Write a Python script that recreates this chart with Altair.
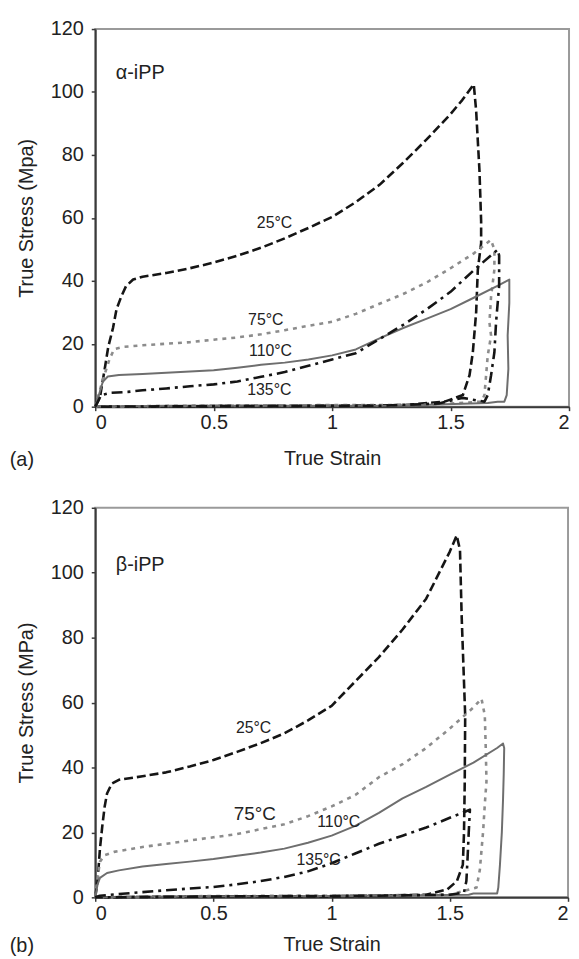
import altair as alt
import pandas as pd

# ---------------- Panel (a): alpha-iPP ----------------
a25_strain = [0, 0.02, 0.04, 0.055, 0.075, 0.09, 0.11, 0.13, 0.16, 0.2, 0.3, 0.4, 0.5, 0.6, 0.7, 0.8, 0.9, 1.0,
              1.1, 1.2, 1.3, 1.4, 1.5, 1.55, 1.598,
              1.608, 1.622, 1.629, 1.629, 1.615, 1.608, 1.594, 1.58, 1.552, 1.475, 1.3, 1.0, 0.5, 0.0]
a25_stress = [0, 3, 12, 19, 25, 31, 35, 38.3, 40.4, 41.3, 42.5, 44, 45.8, 48, 50.5, 53.5, 56.8, 60.3,
              65, 70.5, 77.5, 85, 93, 97.5, 102.4,
              94, 75, 59, 52, 43.5, 30, 17.3, 10, 3.7, 1.6, 0.5, 0.3, 0.2, 0]

a75_strain = [0, 0.03, 0.06, 0.08, 0.12, 0.2, 0.3, 0.4, 0.5, 0.6, 0.7, 0.8, 0.9, 1.0, 1.1, 1.2, 1.3, 1.4,
              1.5, 1.6, 1.67,
              1.685, 1.685, 1.671, 1.664, 1.671, 1.657, 1.65, 1.643, 1.63, 1.4, 1.0, 0.5, 0.0]
a75_stress = [0, 8, 15, 18.3, 19, 19.5, 20, 20.5, 21.3, 22, 23, 24.3, 25.7, 27, 29.5, 32.7, 35.8, 39.5,
              44, 48.8, 53,
              50, 43.6, 35, 26.8, 22.6, 16.3, 10, 3.7, 1.6, 0.6, 0.5, 0.4, 0]

a110_strain = [0, 0.011, 0.032, 0.053, 0.1, 0.2, 0.3, 0.4, 0.5, 0.6, 0.7, 0.8, 0.9, 1.0, 1.1, 1.2, 1.3, 1.4,
               1.5, 1.6, 1.7, 1.748,
               1.748, 1.741, 1.744, 1.737, 1.727, 1.699, 1.657, 1.3, 0.8, 0.3, 0.0]
a110_stress = [0, 2.6, 7.9, 9.6, 10.1, 10.4, 10.8, 11.2, 11.6, 12.4, 13.3, 14, 15, 16.3, 18.2, 21.7, 25, 28,
               31, 34.7, 38.5, 40.4,
               33, 22.6, 12, 3.7, 1.6, 1.6, 1.2, 0.4, 0.3, 0.3, 0]

a135_strain = [0, 0.011, 0.025, 0.067, 0.137, 0.2, 0.3, 0.4, 0.5, 0.6, 0.7, 0.8, 0.9, 1.0, 1.1, 1.2, 1.3, 1.4,
               1.5, 1.6, 1.699,
               1.705, 1.705, 1.699, 1.692, 1.685, 1.671, 1.657, 1.643, 1.55, 1.45, 1.2, 0.6, 0.0]
a135_stress = [0, 1.6, 3.7, 4.4, 4.7, 5.2, 5.8, 6.5, 7.1, 8, 9.5, 11, 13, 15, 17, 21.5, 26, 31,
               36.5, 43.5, 49.9,
               48, 38.4, 33, 26.8, 17.3, 10, 3.7, 1.6, 2.8, 1, 0.3, 0.2, 0]

# ---------------- Panel (b): beta-iPP ----------------
b25_strain = [0, 0.01, 0.02, 0.03, 0.04, 0.05, 0.07, 0.1, 0.2, 0.3, 0.4, 0.5, 0.6, 0.7, 0.8, 0.9, 1.0, 1.1,
              1.2, 1.3, 1.4, 1.5, 1.529,
              1.543, 1.55, 1.565, 1.563, 1.56, 1.555, 1.53, 1.49, 1.4, 1.0, 0.5, 0.0]
b25_stress = [0, 5, 15, 22, 28, 32, 35, 36.2, 37.3, 38.5, 40.3, 42.3, 44.8, 47.5, 50.5, 54.5, 59, 66.5,
              74, 82.5, 92, 106.5, 111.5,
              107, 86.7, 56, 35, 20, 10, 5, 2.5, 0.8, 0.3, 0.3, 0]

b75_strain = [0, 0.01, 0.02, 0.04, 0.08, 0.2, 0.3, 0.4, 0.5, 0.6, 0.7, 0.8, 0.9, 1.0, 1.1, 1.2, 1.3, 1.4,
              1.5, 1.6, 1.634,
              1.648, 1.652, 1.655, 1.648, 1.641, 1.627, 1.613, 1.5, 1.0, 0.5, 0.0]
b75_stress = [0, 6, 11, 13, 14, 15.5, 16.5, 17.5, 18.5, 19.5, 21, 22.5, 25, 28, 31.5, 37, 41, 46,
              52, 58.5, 61.2,
              56, 45.9, 35.7, 28.7, 20.5, 8.5, 3, 0.8, 0.5, 0.4, 0]

b110_strain = [0, 0.01, 0.02, 0.05, 0.1, 0.2, 0.3, 0.4, 0.5, 0.6, 0.7, 0.8, 0.9, 1.0, 1.1, 1.2, 1.3, 1.4,
               1.5, 1.6, 1.7, 1.725,
               1.73, 1.728, 1.725, 1.72, 1.712, 1.705, 1.70, 1.6, 1.58, 1.0, 0.4, 0.0]
b110_stress = [0, 4, 6, 7.5, 8.3, 9.5, 10.3, 11, 11.8, 12.8, 13.8, 15, 16.8, 19, 22, 26, 30.5, 34,
               37.8, 41.5, 46, 47.4,
               46, 38, 30, 20, 10, 3, 1.2, 1.2, 0.8, 0.4, 0.3, 0]

b135_strain = [0, 0.02, 0.1, 0.2, 0.3, 0.4, 0.5, 0.6, 0.7, 0.8, 0.9, 1.0, 1.1, 1.2, 1.3, 1.4, 1.5, 1.585,
               1.58, 1.575, 1.57, 1.56, 1.5, 1.2, 0.6, 0.0]
b135_stress = [0, 0.5, 1, 1.6, 2.2, 2.7, 3.2, 4, 5, 6.3, 8, 10.5, 13.5, 16.5, 19, 21.5, 24.5, 27,
               20, 12, 5, 1.5, 0.8, 0.5, 0.3, 0]

# ---------------- Annotations ----------------
a_label_text = ["25°C", "75°C", "110°C", "135°C", "α-iPP"]
a_label_x = [0.757, 0.72, 0.74, 0.735, 0.19]
a_label_y = [58.3, 27.4, 17.6, 5.3, 106.1]
a_label_fs = [16, 16, 16, 16, 20]

b_label_text = ["25°C", "75°C", "110°C", "135°C", "β-iPP"]
b_label_x = [0.67, 0.675, 1.03, 0.945, 0.19]
b_label_y = [52.3, 25.7, 23.3, 11.6, 102.3]
b_label_fs = [16, 19, 16, 16, 20]

series_names = ["25°C", "75°C", "110°C", "135°C"]
series_style = {
    "25°C": dict(color="#151515", strokeWidth=2.6, strokeDash=[9, 4]),
    "75°C": dict(color="#8c8c8c", strokeWidth=2.6, strokeDash=[4, 5]),
    "110°C": dict(color="#6e6e6e", strokeWidth=2.0),
    "135°C": dict(color="#151515", strokeWidth=2.6, strokeDash=[11, 5, 3, 5]),
}

X_TICKS = [0, 0.5, 1, 1.5, 2]
Y_TICKS = [0, 20, 40, 60, 80, 100, 120]
FONT = "Liberation Sans"


def make_panel(curves, lab_text, lab_x, lab_y, lab_fs, ytitle, tag, w, h, xtitle_pad, tag_dy):
    xenc = alt.X("strain:Q", scale=alt.Scale(domain=[0, 2], nice=False),
                 axis=alt.Axis(values=X_TICKS, format="~g", title="True Strain",
                               labelPadding=2, titlePadding=xtitle_pad))
    yenc = alt.Y("stress:Q", scale=alt.Scale(domain=[0, 120], nice=False),
                 axis=alt.Axis(values=Y_TICKS, title=ytitle, labelPadding=8, titlePadding=14))
    layers = []
    for name, (xs, ys) in zip(series_names, curves):
        df = pd.DataFrame({"strain": xs, "stress": ys, "i": list(range(len(xs)))})
        st = series_style[name]
        layers.append(
            alt.Chart(df).mark_line(strokeCap="butt", strokeJoin="round", **st).encode(
                x=xenc, y=yenc, order=alt.Order("i:Q"))
        )
    ldf = pd.DataFrame({"label": lab_text, "strain": lab_x, "stress": lab_y, "fs": lab_fs})
    layers.append(
        alt.Chart(ldf).mark_text(font=FONT, color="#222", align="center", baseline="middle").encode(
            x=xenc, y=yenc, text="label:N", size=alt.Size("fs:Q", scale=None, legend=None))
    )
    tdf = pd.DataFrame({"t": [tag]})
    layers.append(
        alt.Chart(tdf).mark_text(font=FONT, fontSize=20, color="#222", align="center",
                                 baseline="middle").encode(
            text="t:N", x=alt.value(-74), y=alt.value(h + tag_dy))
    )
    return alt.layer(*layers).properties(width=w, height=h)


pa = make_panel([(a25_strain, a25_stress), (a75_strain, a75_stress), (a110_strain, a110_stress),
                 (a135_strain, a135_stress)],
                a_label_text, a_label_x, a_label_y, a_label_fs, "True Stress (Mpa)", "(a)", 478, 381, 16, 54)
pb = make_panel([(b25_strain, b25_stress), (b75_strain, b75_stress), (b110_strain, b110_stress),
                 (b135_strain, b135_stress)],
                b_label_text, b_label_x, b_label_y, b_label_fs, "True Stress (MPa)", "(b)", 477, 393, 12, 49)

chart = alt.vconcat(pa, pb, spacing=26).properties(
    padding={"left": 0, "top": 6, "right": 0, "bottom": 0},
    background="white",
).configure_view(stroke="#9a9a9a", strokeWidth=2).configure_axis(
    grid=False, domainColor="#3a3a3a", domainWidth=2, tickColor="#3a3a3a", tickWidth=1.5, tickSize=4,
    labelFont=FONT, labelFontSize=20, labelColor="#222", titleFont=FONT, titleFontSize=20,
    titleFontWeight="normal", titleColor="#222"
)

chart.save("out.html", embed_options={"renderer": "svg", "actions": False})
